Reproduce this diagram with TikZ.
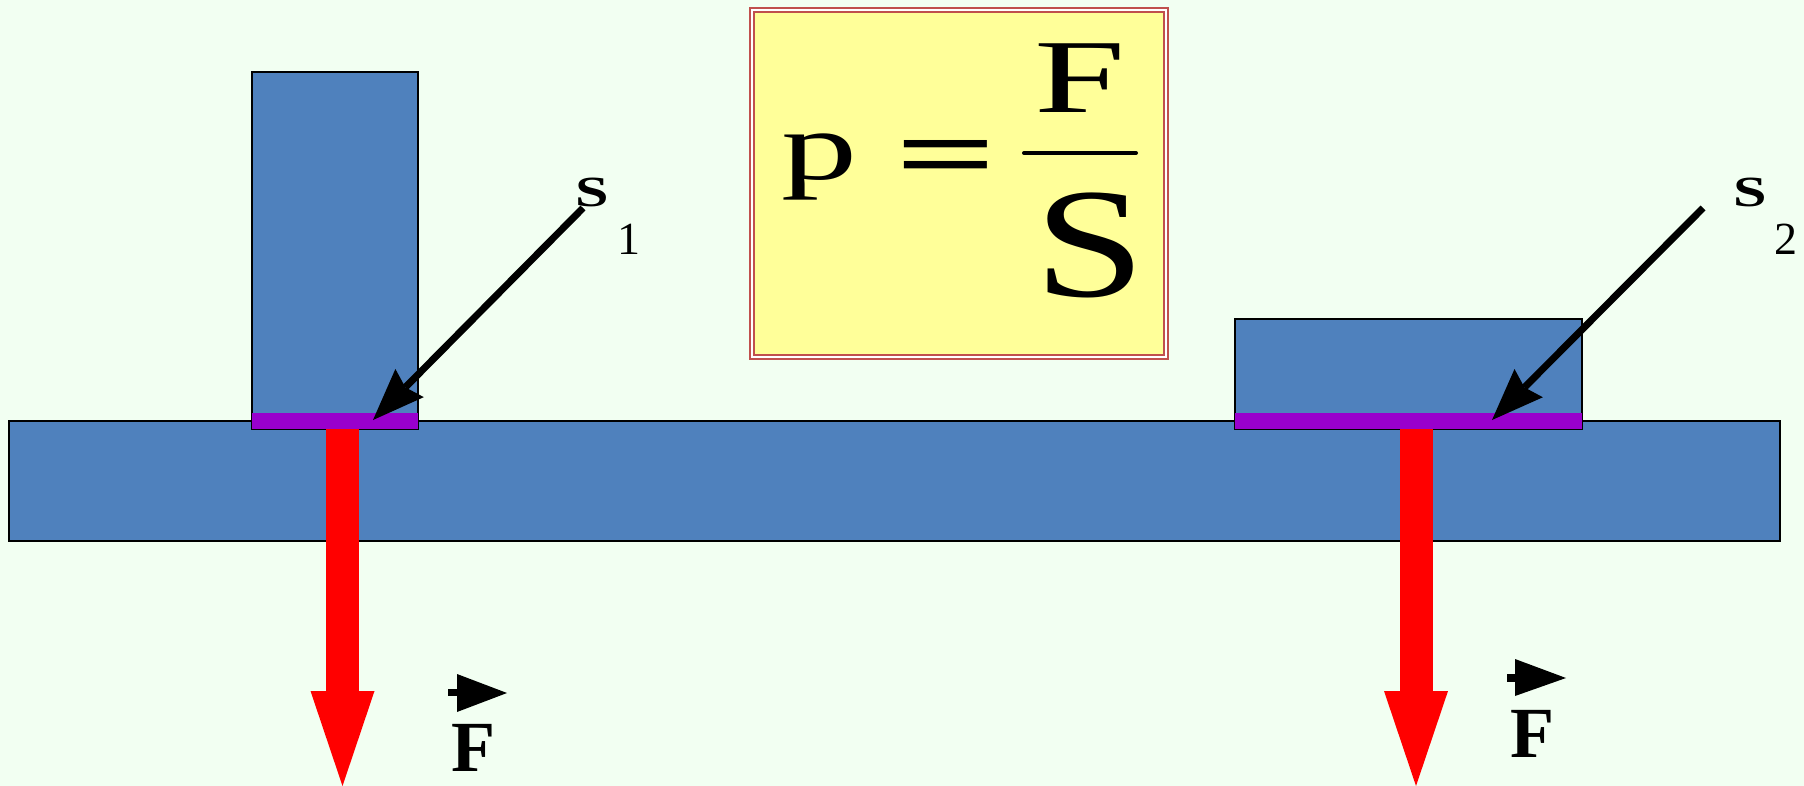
\documentclass[tikz,border=0pt]{standalone}
\usepackage{graphicx}
\usepackage{fontspec}
\setmainfont{Liberation Serif}
\usetikzlibrary{arrows.meta}
\definecolor{bg}{RGB}{242,255,242}
\definecolor{slab}{RGB}{79,129,189}
\definecolor{strip}{RGB}{153,0,204}
\definecolor{boxfill}{RGB}{255,255,153}
\definecolor{boxline}{RGB}{192,80,77}
\begin{document}
\begin{tikzpicture}[x=1pt,y=-1pt,
  body/.style={fill=slab,draw=black,line width=1.5pt,inner sep=0pt,outer sep=0pt,anchor=north west},
  contact/.style={fill=strip,inner sep=0pt,outer sep=0pt,anchor=north west},
  force/.style={draw=red,line width=33pt,-{Triangle[length=95pt,width=64pt,line width=0pt]}},
  pointer/.style={draw=black,line width=7pt,-{Stealth[length=52pt,width=40pt,inset=6pt,line width=0pt]}},
  formula/.style={inner sep=0pt,font=\fontsize{105}{110}\selectfont},
  slabel/.style={inner sep=0pt,anchor=base west,font=\fontsize{43}{43}\selectfont\bfseries},
  sub/.style={inner sep=0pt,anchor=base west,font=\fontsize{46}{46}\selectfont},
  flabel/.style={inner sep=0pt,anchor=base west,font=\fontsize{72}{72}\selectfont\bfseries},
  vec/.style={fill=black}
]
% background and bounding box
\fill[bg] (0,0) rectangle (1804,786);
\useasboundingbox (0,0) rectangle (1804,786);

% bodies
\node[body,minimum width=1771pt,minimum height=120pt] (slab) at (9,421) {};
\node[body,minimum width=166pt,minimum height=357pt] (b1) at (252,72) {};
\node[body,minimum width=347pt,minimum height=110pt] (b2) at (1235,319) {};

% contact areas
\node[contact,minimum width=166pt,minimum height=16pt] (c1) at (252,413) {};
\node[contact,minimum width=347pt,minimum height=16pt] (c2) at (1235,413) {};

% forces
\coordinate (f1a) at (342.5,429);
\coordinate (f1b) at (342.5,786);
\coordinate (f2a) at (1416,429);
\coordinate (f2b) at (1416,786);
\draw[force] (f1a) -- (f1b);
\draw[force] (f2a) -- (f2b);

% formula box
\node[draw=boxline,double=white,double distance=2pt,line width=2pt,fill=boxfill,
      minimum width=414pt,minimum height=347pt,anchor=north west,inner sep=0pt] (box) at (751,9) {};
\node[formula,anchor=base west,font=\fontsize{97}{100}\selectfont] (p) at (781,180) {\scalebox{1.57}[1]{p}};
\node[formula,anchor=base west,font=\fontsize{105}{110}\selectfont\bfseries] (eq) at (895,190) {\scalebox{1.7}[1]{=}};
\node[formula,anchor=base] (num) at (1080,113) {\scalebox{1.56}[1]{F}};
\node[formula,anchor=base,font=\fontsize{111}{115}\selectfont] (den) at (1090,297) {\scalebox{1.8}[1.41]{S}};
\coordinate (barl) at (1024,153);
\coordinate (barr) at (1136,153);
\draw[line width=4pt,line cap=round] (barl) -- (barr);

% labels S1, S2
\node[slabel] (s1) at (575,207) {\scalebox{1.4}[1]{S}};
\node[sub] (s1i) at (617,255) {1};
\node[slabel] (s2) at (1733,207) {\scalebox{1.4}[1]{S}};
\node[sub] (s2i) at (1774,255) {2};

% pointers
\coordinate (t1) at (583,208);
\coordinate (h1) at (373,420);
\coordinate (t2) at (1703,208);
\coordinate (h2) at (1492,420);
\draw[pointer] (t1) -- (h1);
\draw[pointer] (t2) -- (h2);

% force labels
\node[flabel] (F1) at (451,771) {F};
\node[flabel] (F2) at (1510,757) {F};
\fill[vec] (448,689) rectangle (458,696);
\fill[vec] (457,674) -- (507,693) -- (457,712) -- cycle;
\fill[vec] (1507,674) rectangle (1516,682);
\fill[vec] (1515,659) -- (1566,678) -- (1515,696) -- cycle;
\end{tikzpicture}
\end{document}
